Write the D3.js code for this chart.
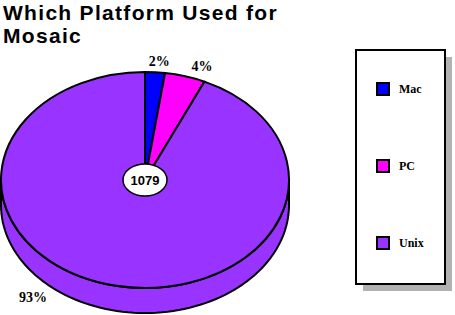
<!DOCTYPE html>
<html>
<head>
<meta charset="utf-8">
<script src="https://cdn.jsdelivr.net/npm/d3@7"></script>
<style>
  body { margin: 0; background: #fff; }
  svg { display: block; }
</style>
</head>
<body>
<svg id="chart" width="455" height="315"></svg>
<script>
const platforms = ["Mac", "PC", "Unix"];
const counts = [24, 49, 1006];
const pctLabels = ["2%", "4%", "93%"];
const titleLines = ["Which Platform Used for", "Mosaic"];

const colors = d3.scaleOrdinal()
  .domain(platforms)
  .range(["#0000ff", "#ff00ff", "#9933ff"]);

const svg = d3.select("#chart");

// title
svg.append("g")
  .selectAll("text")
  .data(titleLines)
  .join("text")
  .attr("x", 3)
  .attr("y", (d, i) => 20 + i * 23)
  .attr("font-family", "Liberation Sans, Arial, sans-serif")
  .attr("font-size", 21)
  .attr("font-weight", "bold")
  .attr("letter-spacing", 1.3)
  .attr("fill", "#000")
  .text(d => d);

// pie geometry (tilted ellipse)
const cx = 145, cy = 180, rx = 144, ry = 108, depth = 25;
const total = d3.sum(counts);

const pie = d3.pie().sort(null).value(d => d.value);
const arcs = pie(platforms.map((p, i) => ({ name: p, value: counts[i], label: pctLabels[i] })));

const px = a => cx + rx * Math.sin(a);
const py = a => cy - ry * Math.cos(a);

const g = svg.append("g");

// side wall, only the front half is visible
function sidePath(d) {
  const a0 = Math.max(d.startAngle, Math.PI / 2);
  const a1 = Math.min(d.endAngle, Math.PI * 1.5);
  if (a1 <= a0) return null;
  const steps = 80;
  const top = d3.range(steps + 1).map(k => a0 + (a1 - a0) * k / steps);
  const p = d3.path();
  p.moveTo(px(top[0]), py(top[0]));
  top.forEach(a => p.lineTo(px(a), py(a)));
  top.slice().reverse().forEach(a => p.lineTo(px(a), py(a) + depth));
  p.closePath();
  return p.toString();
}

g.selectAll("path.side")
  .data(arcs.filter(d => sidePath(d)))
  .join("path")
  .attr("class", "side")
  .attr("d", sidePath)
  .attr("fill", d => colors(d.data.name))
  .attr("stroke", "#000")
  .attr("stroke-width", 2)
  .attr("stroke-linejoin", "round");

// top face slices
const arc = d3.arc().innerRadius(0).outerRadius(rx);
g.selectAll("path.top")
  .data(arcs)
  .join("path")
  .attr("class", "top")
  .attr("transform", `translate(${cx},${cy}) scale(1,${ry / rx})`)
  .attr("d", arc)
  .attr("fill", d => colors(d.data.name))
  .attr("stroke", "#000")
  .attr("stroke-width", 2)
  .attr("vector-effect", "non-scaling-stroke");

// total in the middle
g.append("ellipse")
  .attr("cx", cx).attr("cy", cy)
  .attr("rx", 22).attr("ry", 16)
  .attr("fill", "#fff")
  .attr("stroke", "#000")
  .attr("stroke-width", 1.5);

g.append("text")
  .attr("x", cx).attr("y", cy + 5)
  .attr("text-anchor", "middle")
  .attr("font-family", "Liberation Sans, Arial, sans-serif")
  .attr("font-size", 13)
  .attr("font-weight", "bold")
  .text(total);

// percent labels: small slices above rim, large slice goes to lower left
function labelPos(d) {
  const mid = (d.startAngle + d.endAngle) / 2;
  if (d.endAngle - d.startAngle > Math.PI) {
    const a = Math.PI * 1.25;
    return [cx + rx * 1.1 * Math.sin(a), cy - ry * 1.27 * Math.cos(a) + depth];
  }
  return [cx + rx * 1.42 * Math.sin(mid), cy - ry * 1.1 * Math.cos(mid) + 5];
}

g.selectAll("text.pct")
  .data(arcs)
  .join("text")
  .attr("class", "pct")
  .attr("x", d => labelPos(d)[0])
  .attr("y", d => labelPos(d)[1])
  .attr("text-anchor", "middle")
  .attr("font-family", "Liberation Serif, Times New Roman, serif")
  .attr("font-size", 14)
  .attr("font-weight", "bold")
  .text(d => d.data.label);

// legend box with drop shadow
const lx = 356, ly = 50, lw = 89, lh = 234;
const legend = svg.append("g");
legend.append("rect")
  .attr("x", lx + 7).attr("y", ly + 7)
  .attr("width", lw).attr("height", lh)
  .attr("fill", "#b2b2b2");
legend.append("rect")
  .attr("x", lx).attr("y", ly)
  .attr("width", lw).attr("height", lh)
  .attr("fill", "#fff")
  .attr("stroke", "#000")
  .attr("stroke-width", 2);

const ly0 = d3.scalePoint()
  .domain(platforms)
  .range([89, 243]);

const items = legend.selectAll("g.item")
  .data(platforms)
  .join("g")
  .attr("class", "item")
  .attr("transform", d => `translate(377,${ly0(d)})`);

items.append("rect")
  .attr("x", 0).attr("y", -6)
  .attr("width", 12).attr("height", 12)
  .attr("fill", d => colors(d))
  .attr("stroke", "#000")
  .attr("stroke-width", 2);

items.append("text")
  .attr("x", 22).attr("y", 4)
  .attr("font-family", "Liberation Serif, Times New Roman, serif")
  .attr("font-size", 12)
  .attr("font-weight", "bold")
  .text(d => d);
</script>
</body>
</html>
